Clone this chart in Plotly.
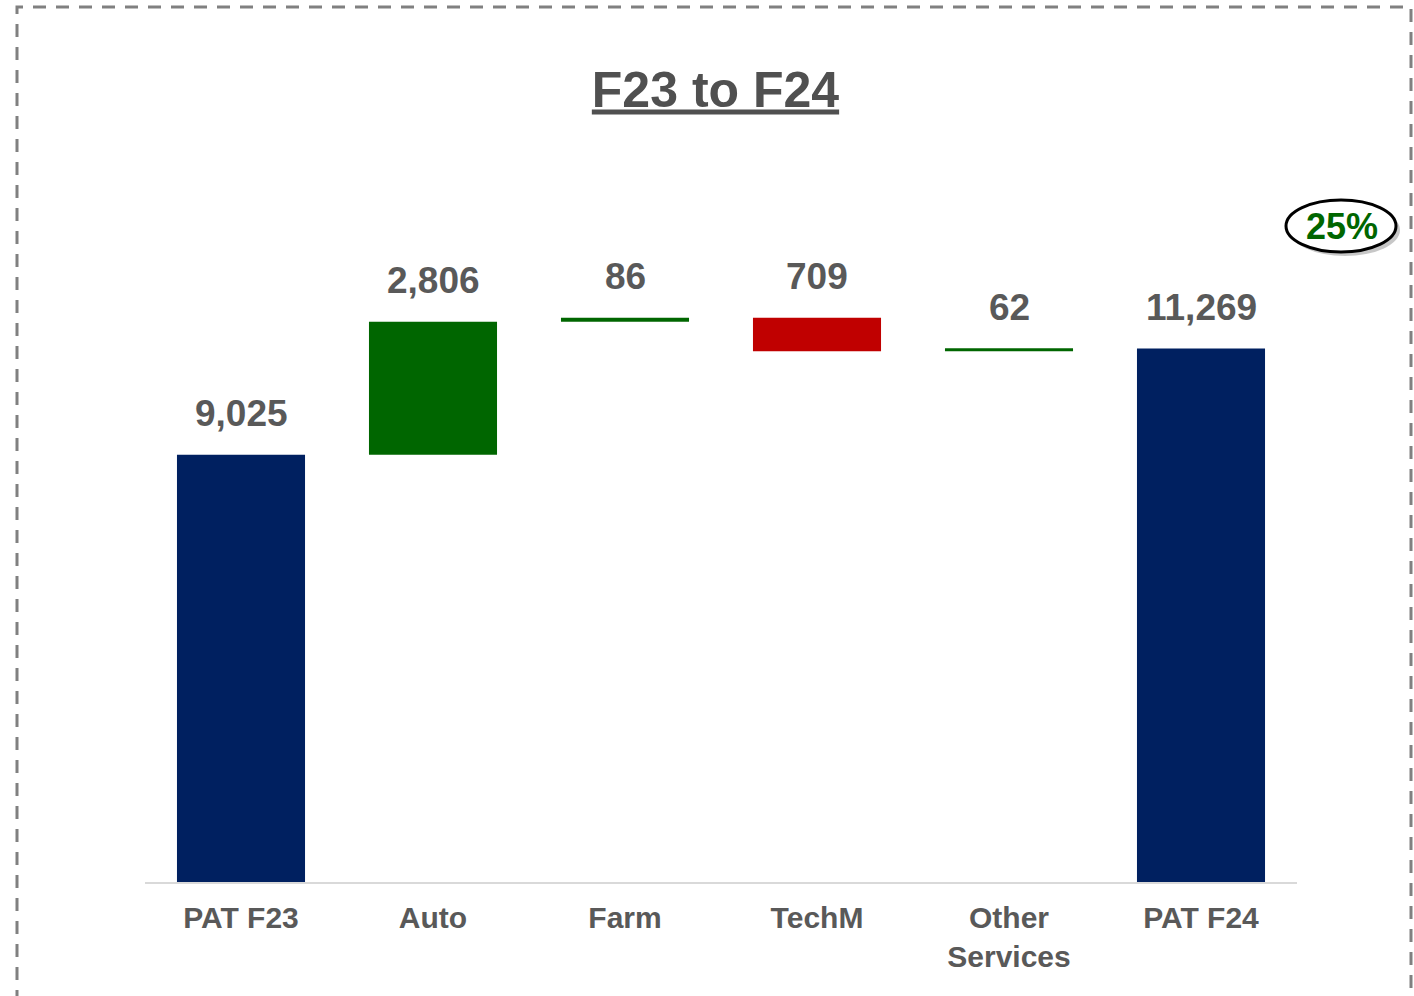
import plotly.graph_objects as go

# Profit-after-tax bridge, F23 -> F24
categories = ["PAT F23", "Auto", "Farm", "TechM", "Other<br>Services", "PAT F24"]
measures = ["absolute", "relative", "relative", "relative", "relative", "absolute"]
values = [9025, 2806, 86, -709, 62, 11269]
growth_label = "25%"

NAVY = "#002060"
GREEN = "#006600"
RED = "#C00000"
LABEL_GREY = "#595959"
FONT = "Liberation Sans, Arial, sans-serif"

# plot-area geometry (pixels)
W, H = 1414, 996
ML, MR, MT, MB = 145, 117, 100, 114
PW, PH = W - ML - MR, H - MT - MB
Y_MAX = 16515

def px_to_paper_x(px):
    return (px - ML) / PW

def px_to_paper_y(py):
    return (H - MB - py) / PH

fig = go.Figure()
fig.add_trace(go.Waterfall(
    x=categories,
    measure=measures,
    y=values,
    width=0.667,
    increasing=dict(marker=dict(color=GREEN)),
    decreasing=dict(marker=dict(color=RED)),
    totals=dict(marker=dict(color=NAVY)),
    connector=dict(visible=False),
    hoverinfo="x+y",
))

# value labels sit above the top edge of each bar
running = 0
for cat, m, v in zip(categories, measures, values):
    if m == "absolute":
        top = v
        running = v
    else:
        top = max(running, running + v)
        running += v
    fig.add_annotation(
        x=cat, y=top, xref="x", yref="y",
        text=f"<b>{abs(v):,}</b>", showarrow=False,
        yanchor="middle", yshift=41,
        font=dict(family=FONT, size=37, color=LABEL_GREY),
    )

# dashed frame around the whole panel
fig.add_shape(
    type="rect", xref="paper", yref="paper",
    x0=px_to_paper_x(17), x1=px_to_paper_x(1411),
    y0=px_to_paper_y(1020), y1=px_to_paper_y(7),
    line=dict(color="#808080", width=3, dash="13px,10px"),
    fillcolor="rgba(0,0,0,0)", layer="above",
)

# growth badge: shadow, ellipse, text
fig.add_shape(
    type="circle", xref="paper", yref="paper",
    x0=px_to_paper_x(1290), x1=px_to_paper_x(1400),
    y0=px_to_paper_y(256), y1=px_to_paper_y(204),
    line=dict(width=0), fillcolor="rgba(0,0,0,0.22)", layer="above",
)
fig.add_shape(
    type="circle", xref="paper", yref="paper",
    x0=px_to_paper_x(1286), x1=px_to_paper_x(1396),
    y0=px_to_paper_y(252), y1=px_to_paper_y(200),
    line=dict(color="black", width=3), fillcolor="white", layer="above",
)
fig.add_annotation(
    x=px_to_paper_x(1342), y=px_to_paper_y(226), xref="paper", yref="paper",
    text=f"<b>{growth_label}</b>", showarrow=False,
    xanchor="center", yanchor="middle",
    font=dict(family=FONT, size=36, color=GREEN),
)

fig.update_layout(
    width=W, height=H,
    margin=dict(l=ML, r=MR, t=MT, b=MB),
    paper_bgcolor="white", plot_bgcolor="white",
    showlegend=False,
    title=dict(
        text="<b><u>F23 to F24</u></b>",
        x=0.506, xanchor="center",
        y=1 - 89 / H, yanchor="middle", yref="container",
        font=dict(family=FONT, size=50, color="#505050"),
    ),
    xaxis=dict(
        showline=True, linecolor="#d9d9d9", linewidth=2,
        showgrid=False, zeroline=False, ticks="",
        tickfont=dict(family=FONT, size=30, color=LABEL_GREY, weight="bold"),
        ticklabelstandoff=8,
    ),
    yaxis=dict(
        range=[0, Y_MAX], visible=False, showgrid=False, zeroline=False,
    ),
)

fig.write_html("out.html")
